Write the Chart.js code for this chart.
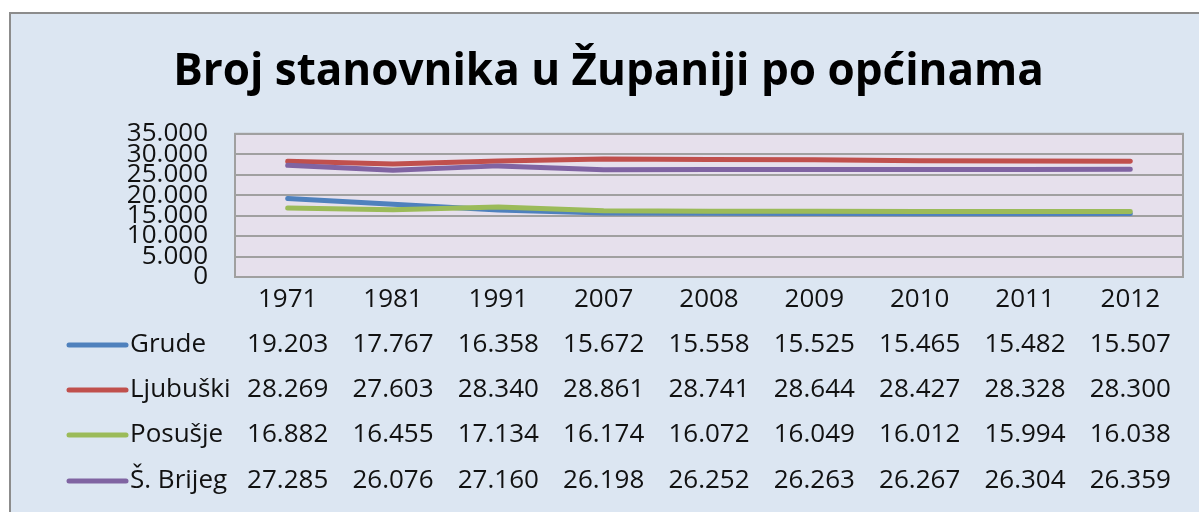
<!DOCTYPE html>
<html>
<head>
<meta charset="utf-8">
<title>Broj stanovnika</title>
<script src="https://cdn.jsdelivr.net/npm/chart.js@4.4.1/dist/chart.umd.min.js"></script>
<style>
    html, body { margin: 0; padding: 0; background: #ffffff; }
    #contenedor { position: relative; width: 1199px; height: 512px; }
</style>
</head>
<body>
<div id="contenedor"><canvas id="grafico-lineas"></canvas></div>
<script>
var godine = ["1971", "1981", "1991", "2007", "2008", "2009", "2010", "2011", "2012"];
var opcine = ["Grude", "Ljubuški", "Posušje", "Š. Brijeg"];
var grude = [19203, 17767, 16358, 15672, 15558, 15525, 15465, 15482, 15507];
var ljubuski = [28269, 27603, 28340, 28861, 28741, 28644, 28427, 28328, 28300];
var posusje = [16882, 16455, 17134, 16174, 16072, 16049, 16012, 15994, 16038];
var siroki = [27285, 26076, 27160, 26198, 26252, 26263, 26267, 26304, 26359];
var colores = ["#4f81bd", "#c0504d", "#9bbb59", "#8064a2"];
var ejeY = [0, 5000, 10000, 15000, 20000, 25000, 30000, 35000];

var series = [grude, ljubuski, posusje, siroki];
var fuente = "'Open Sans', 'DejaVu Sans', sans-serif";

// Formato con punto de miles (35.000)
function formatoMiles(n) {
    var s = String(Math.round(n));
    return s.replace(/\B(?=(\d{3})+(?!\d))/g, ".");
}

// Fondo del gráfico y del área de trazado
var pluginFondo = {
    id: "fondo",
    beforeDraw: function(chart) {
        var ctx = chart.ctx;
        var area = chart.chartArea;
        ctx.save();
        ctx.fillStyle = "#ffffff";
        ctx.fillRect(0, 0, chart.width, chart.height);
        ctx.fillStyle = "#dce6f2";
        ctx.fillRect(10, 13, chart.width, chart.height);
        ctx.strokeStyle = "#8c8c8c";
        ctx.lineWidth = 2;
        ctx.beginPath();
        ctx.moveTo(10, chart.height);
        ctx.lineTo(10, 13);
        ctx.lineTo(chart.width, 13);
        ctx.stroke();
        ctx.fillStyle = "#e6e0ec";
        ctx.fillRect(area.left, area.top, area.right - area.left, area.bottom - area.top);
        ctx.restore();
    },
    beforeDatasetsDraw: function(chart) {
        var ctx = chart.ctx;
        var area = chart.chartArea;
        ctx.save();
        ctx.strokeStyle = "#a0a0a0";
        ctx.lineWidth = 2;
        ctx.strokeRect(area.left, area.top, area.right - area.left, area.bottom - area.top);
        ctx.restore();
    }
};

// Tabla de datos bajo el eje X, con la leyenda a la izquierda
var pluginTabla = {
    id: "tabla",
    afterDraw: function(chart) {
        var ctx = chart.ctx;
        var x = chart.scales.x;
        var filas = [345, 390, 435, 481];
        ctx.save();
        ctx.font = "26px " + fuente;
        ctx.fillStyle = "#111111";
        ctx.textBaseline = "middle";
        for (var i = 0; i < opcine.length; i++) {
            var y = filas[i];
            ctx.strokeStyle = colores[i];
            ctx.lineWidth = 5;
            ctx.lineCap = "round";
            ctx.beginPath();
            ctx.moveTo(69, y);
            ctx.lineTo(126, y);
            ctx.stroke();
            ctx.textAlign = "left";
            ctx.fillText(opcine[i], 130, y);
            ctx.textAlign = "center";
            for (var j = 0; j < godine.length; j++) {
                ctx.fillText(formatoMiles(series[i][j]), x.getPixelForValue(j), y);
            }
        }
        ctx.restore();
    }
};

var datasets = [];
for (var i = 0; i < opcine.length; i++) {
    datasets.push({
        label: opcine[i],
        data: series[i],
        borderColor: colores[i],
        backgroundColor: colores[i],
        borderWidth: 5,
        borderCapStyle: "round",
        borderJoinStyle: "round",
        pointRadius: 0,
        tension: 0,
        order: opcine.length - i
    });
}

var ctx = document.getElementById("grafico-lineas").getContext("2d");

var config = {
    type: "line",
    data: {
        labels: godine,
        datasets: datasets
    },
    options: {
        responsive: true,
        maintainAspectRatio: false,
        animation: false,
        devicePixelRatio: 1,
        layout: {
            padding: { left: 34, top: 12, right: 16, bottom: 0 }
        },
        plugins: {
            legend: { display: false },
            tooltip: { enabled: false },
            title: {
                display: true,
                text: "Broj stanovnika u Županiji po općinama",
                color: "#000000",
                font: { family: fuente, size: 44, weight: "bold", lineHeight: 1.2 },
                padding: { top: 34, bottom: 35 }
            }
        },
        scales: {
            x: {
                offset: true,
                grid: { display: false, drawTicks: false },
                border: { display: false },
                ticks: {
                    color: "#111111",
                    font: { family: fuente, size: 26, lineHeight: 1.2 },
                    padding: 7,
                    maxRotation: 0,
                    autoSkip: false
                },
                afterFit: function(scale) {
                    scale.height = 512 - 277;
                }
            },
            y: {
                min: 0,
                max: 35000,
                afterBuildTicks: function(scale) {
                    scale.ticks = ejeY.map(function(v) { return { value: v }; });
                },
                grid: { color: "#a0a0a0", lineWidth: 2, drawTicks: false },
                border: { display: false },
                ticks: {
                    color: "#111111",
                    font: { family: fuente, size: 26, lineHeight: 0.8 },
                    padding: 27,
                    autoSkip: false,
                    callback: function(v) { return formatoMiles(v); }
                },
                afterFit: function(scale) {
                    scale.width = 235 - 34;
                }
            }
        }
    },
    plugins: [pluginFondo, pluginTabla]
};

new Chart(ctx, config);
</script>
</body>
</html>
